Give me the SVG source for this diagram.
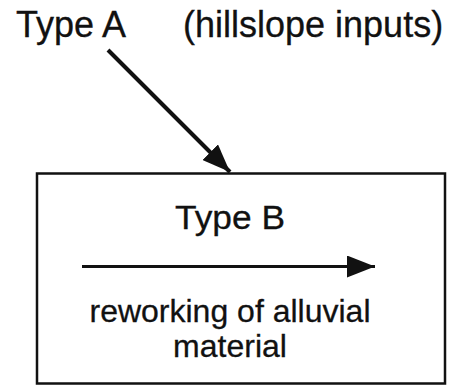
<svg xmlns="http://www.w3.org/2000/svg" width="449" height="385" viewBox="0 0 449 385">
<style>
text{font-family:"Liberation Sans",Arial,Helvetica,sans-serif;fill:#111;stroke:#111;stroke-width:0.3}
.big{font-size:36px}
.mid{font-size:32px}
.hd{font-size:34px}
.ln{stroke:#111;fill:none}
</style>
<defs>
<marker id="ah" markerUnits="userSpaceOnUse" viewBox="0 0 28 22" refX="28" refY="11" markerWidth="28" markerHeight="22" orient="auto">
<path d="M0,0 L28,11 L0,22 Z" fill="#111"/>
</marker>
</defs>
<rect width="449" height="385" fill="#fff"/>
<g id="typeA">
<text class="big" x="16" y="37">Type A</text>
<text class="big" x="183" y="37">(hillslope inputs)</text>
</g>
<g id="typeB">
<rect class="ln" x="37" y="173.5" width="408" height="210" stroke-width="2.5"/>
<text class="hd" x="230" y="229" text-anchor="middle" textLength="110" lengthAdjust="spacingAndGlyphs">Type B</text>
<text class="mid" x="230" y="322" text-anchor="middle">reworking of alluvial</text>
<text class="mid" x="230" y="357" text-anchor="middle">material</text>
</g>
<g id="connectors">
<line class="ln" x1="108" y1="50" x2="230" y2="172" stroke-width="4" marker-end="url(#ah)"/>
<line class="ln" x1="82" y1="266.5" x2="375" y2="266.5" stroke-width="3" marker-end="url(#ah)"/>
</g>
</svg>
